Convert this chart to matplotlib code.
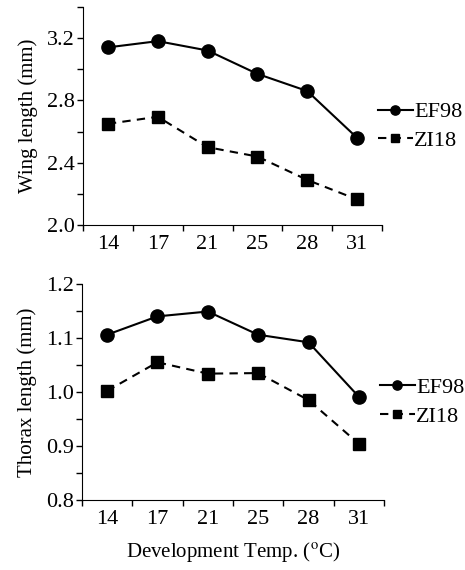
import numpy as np
import matplotlib.pyplot as plt

# development temperatures (categories)
temps = ['14', '17', '21', '25', '28', '31']

# wing length (mm)
wing_ef98 = [3.14, 3.18, 3.12, 2.97, 2.86, 2.56]
wing_zi18 = [2.65, 2.695, 2.50, 2.44, 2.29, 2.165]

# thorax length (mm)
thorax_ef98 = [1.106, 1.140, 1.149, 1.106, 1.092, 0.991]
thorax_zi18 = [1.002, 1.055, 1.034, 1.035, 0.985, 0.904]

plt.rcParams['font.family'] = ['Liberation Serif', 'DejaVu Serif']
plt.rcParams['mathtext.fontset'] = 'stix'
fs = 16
lfs = 15

fig = plt.figure(figsize=(4.65, 5.70), dpi=100)
ax1 = fig.add_axes([0.1785, 0.605, 0.643, 0.383])
ax2 = fig.add_axes([0.176, 0.1228, 0.650, 0.379])

x = np.arange(len(temps)) + 0.5


def style(ax, ef, zi, ylim, major, minor, ylabel):
    ax.plot(x, ef, color='black', lw=1.5, marker='o', ms=9.5, label='EF98')
    ax.plot(x, zi, color='black', lw=1.5, ls='--', dashes=(4, 3), marker='s', ms=9, label='ZI18')
    ax.set_xlim(0, len(temps))
    ax.set_ylim(*ylim)
    # ticks on the category boundaries, labels in the middle
    ax.set_xticks(np.arange(len(temps) + 1))
    ax.set_xticklabels([])
    ax.set_xticks(x, minor=True)
    ax.set_xticklabels(temps, minor=True, fontsize=fs)
    ax.tick_params(axis='x', which='minor', length=0, pad=7)
    ax.tick_params(axis='x', which='major', length=4, width=1)
    ax.set_yticks(np.arange(ylim[0], ylim[1] + 1e-9, major))
    ax.set_yticks(np.arange(ylim[0], ylim[1] + 1e-9, minor), minor=True)
    ax.tick_params(axis='y', which='both', length=4, width=1, labelsize=fs, pad=2)
    ax.spines['top'].set_visible(False)
    ax.spines['right'].set_visible(False)
    ax.set_ylabel(ylabel, fontsize=lfs, labelpad=6)
    ax.legend(loc='center left', bbox_to_anchor=(0.985, 0.453), frameon=False,
              fontsize=fs, handlelength=1.6, handletextpad=0.05, markerscale=0.7,
              borderpad=0, borderaxespad=0, labelspacing=0.35)


style(ax1, wing_ef98, wing_zi18, (2.0, 3.4), 0.4, 0.2, 'Wing length (mm)')
ax1.set_yticklabels(['%.1f' % v for v in np.arange(2.0, 3.41, 0.4)])
style(ax2, thorax_ef98, thorax_zi18, (0.8, 1.2), 0.1, 0.05, 'Thorax length (mm)')
ax2.set_yticklabels(['%.1f' % v for v in np.arange(0.8, 1.21, 0.1)])
ax2.set_xlabel(r'Development Temp. ($^{\mathrm{o}}$C)', fontsize=lfs, labelpad=8)

fig.savefig('out.png', dpi=100)
